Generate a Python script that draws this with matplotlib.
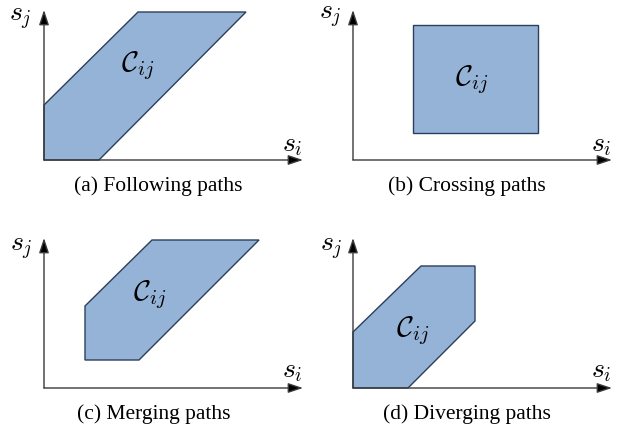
import matplotlib
matplotlib.use("Agg")
import matplotlib.pyplot as plt
from matplotlib.patches import Polygon

plt.rcParams['mathtext.fontset'] = 'cm'

# Region C_ij vertices per panel (units: pixels relative to the axes origin)
poly_following = [(0, 0), (0, 55), (94, 148), (202, 148), (55, 0)]
poly_crossing = [(60, 27), (60, 135), (185, 135), (185, 27)]
poly_merging = [(41, 28), (41, 82), (108, 148), (215, 148), (95, 28)]
poly_diverging = [(0, 0), (0, 56), (68, 122), (122, 122), (122, 67), (55, 0)]

captions = ["(a) Following paths", "(b) Crossing paths",
            "(c) Merging paths", "(d) Diverging paths"]
polys = [poly_following, poly_crossing, poly_merging, poly_diverging]

W, H = 624, 428
fig = plt.figure(figsize=(W / 100, H / 100), dpi=100)

# panel origin pixel positions (x, y from top) and axis lengths
origins = [(44, 160), (353, 160), (44, 388), (353, 388)]
ytops = [150, 150, 150, 150]
xlen = 259
label_cfg = [
    dict(sj=(-24, 142), si=(248, 16), c=(94, 94), cap=(114, -26)),
    dict(sj=(-23, 144), si=(248, 16), c=(119, 80), cap=(114, -26)),
    dict(sj=(-23, 140), si=(248, 18), c=(106, 93), cap=(110, -26)),
    dict(sj=(-22, 140), si=(248, 18), c=(60, 57), cap=(114, -26)),
]

fill = '#95b3d7'
edge = '#2b3f5c'
axcol = '#3a3a3a'

for k in range(4):
    ox, oy = origins[k]
    col = k % 2
    row = k // 2
    x0 = col * 312
    y0 = row * 214
    ax = fig.add_axes([x0 / W, 1 - (y0 + 214) / H, 312 / W, 214 / H])
    ax.set_xlim(x0 - ox, x0 + 312 - ox)
    ax.set_ylim(oy - (y0 + 214), oy - y0)
    ax.axis('off')
    p = Polygon(polys[k], closed=True, facecolor=fill, edgecolor=edge,
                linewidth=1.0, zorder=2)
    ax.add_patch(p)
    for tgt in [(xlen, 0), (0, ytops[k])]:
        ax.annotate('', xy=tgt, xytext=(0, 0),
                    arrowprops=dict(arrowstyle='-|>,head_length=0.9,head_width=0.3',
                                    color=axcol, lw=1.0, mutation_scale=10,
                                    shrinkA=0, shrinkB=0, fc='black'),
                    zorder=3)
    cfg = label_cfg[k]
    ax.text(*cfg['sj'], r'$s_j$', fontsize=20, ha='center', va='center')
    ax.text(*cfg['si'], r'$s_i$', fontsize=20, ha='center', va='center')
    ax.text(*cfg['c'], r'$\mathcal{C}_{ij}$', fontsize=21, ha='center',
            va='center', zorder=4)
    ax.text(*cfg['cap'], captions[k], fontsize=15.5, ha='center', va='center',
            family='Liberation Serif')

fig.savefig('out.png', dpi=100)
